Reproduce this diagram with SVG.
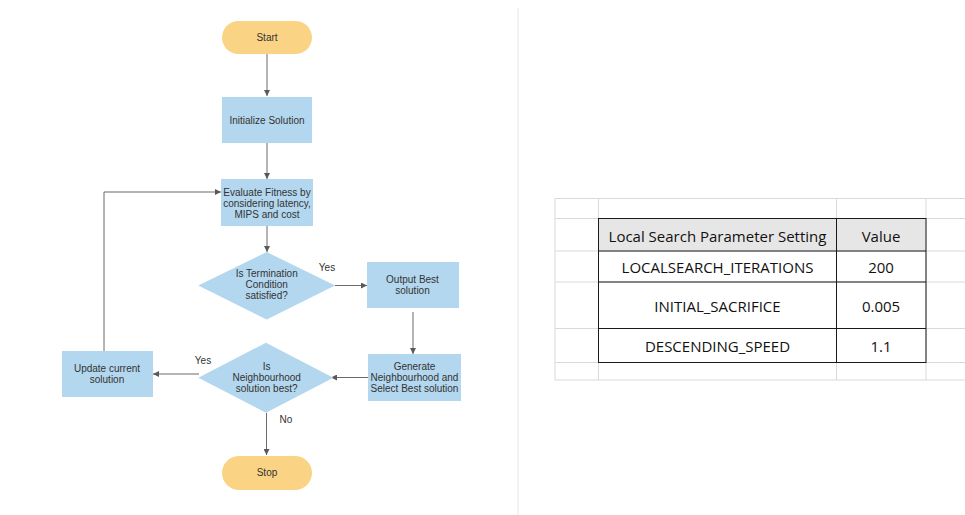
<svg xmlns="http://www.w3.org/2000/svg" width="965" height="515" viewBox="0 0 965 515">
  <defs>
    <marker id="arrow" viewBox="0 0 10 10" refX="10" refY="5" markerWidth="6" markerHeight="6" orient="auto" markerUnits="userSpaceOnUse">
      <path d="M0,0 L10,5 L0,10 z" fill="#595959"/>
    </marker>
    <style>
      .term { fill: #fad484; }
      .proc { fill: #b3d7ee; }
      .lbl { font-family: "Liberation Sans", Arial, sans-serif; font-size: 10px; fill: #333333; text-anchor: middle; }
      .edge { fill: none; stroke: #6b6b6b; stroke-width: 1; }
      .grid { stroke: #d9d9d9; stroke-width: 1; fill: none; }
      .tbl { stroke: #1a1a1a; stroke-width: 1; fill: none; }
      .cell { font-family: "Open Sans", "Liberation Sans", sans-serif; font-size: 15px; fill: #111111; text-anchor: middle; }
    </style>
  </defs>
  <rect width="965" height="515" fill="#ffffff"/>

  <!-- panel divider -->
  <line x1="518" y1="8" x2="518" y2="515" stroke="#e6e6e6" stroke-width="1"/>

  <!-- connectors -->
  <g id="connectors">
    <path class="edge" d="M267,54 V96" marker-end="url(#arrow)"/>
    <path class="edge" d="M267,143 V179" marker-end="url(#arrow)"/>
    <path class="edge" d="M267,226 V252" marker-end="url(#arrow)"/>
    <path class="edge" d="M335,285.5 H367" marker-end="url(#arrow)"/>
    <path class="edge" d="M413,312 V354" marker-end="url(#arrow)"/>
    <path class="edge" d="M368,377.5 H331" marker-end="url(#arrow)"/>
    <path class="edge" d="M199,374 H153" marker-end="url(#arrow)"/>
    <path class="edge" d="M266.5,413 V455" marker-end="url(#arrow)"/>
    <path class="edge" d="M104,351 V192 H221" marker-end="url(#arrow)"/>
    <text class="lbl" x="327" y="271">Yes</text>
    <text class="lbl" x="203" y="364">Yes</text>
    <text class="lbl" x="286" y="423">No</text>
  </g>

  <g id="start">
    <rect class="term" x="222" y="21" width="90" height="33" rx="16.5"/>
    <text class="lbl" x="267" y="41">Start</text>
  </g>

  <g id="init">
    <rect class="proc" x="222" y="97" width="90" height="46"/>
    <text class="lbl" x="267" y="123.5">Initialize Solution</text>
  </g>

  <g id="evaluate">
    <rect class="proc" x="221" y="179" width="92" height="47"/>
    <text class="lbl" x="267" y="195.5">Evaluate Fitness by</text>
    <text class="lbl" x="267" y="206.5">considering latency,</text>
    <text class="lbl" x="267" y="217.5">MIPS and cost</text>
  </g>

  <g id="termination">
    <polygon class="proc" points="266.7,252 335,285.5 266.7,319.5 198.3,285.5"/>
    <text class="lbl" x="266.7" y="277">Is Termination</text>
    <text class="lbl" x="266.7" y="288">Condition</text>
    <text class="lbl" x="266.7" y="299">satisfied?</text>
  </g>

  <g id="output">
    <rect class="proc" x="367" y="262" width="92" height="46"/>
    <text class="lbl" x="412.5" y="283">Output Best</text>
    <text class="lbl" x="412.5" y="294">solution</text>
  </g>

  <g id="generate">
    <rect class="proc" x="368" y="354" width="93" height="47"/>
    <text class="lbl" x="414.5" y="370">Generate</text>
    <text class="lbl" x="414.5" y="381">Neighbourhood and</text>
    <text class="lbl" x="414.5" y="392">Select Best solution</text>
  </g>

  <g id="neighbour">
    <polygon class="proc" points="266,342.7 333.3,377.7 266,412.7 198.3,377.7"/>
    <text class="lbl" x="266.7" y="370">Is</text>
    <text class="lbl" x="266.7" y="381">Neighbourhood</text>
    <text class="lbl" x="266.7" y="392">solution best?</text>
  </g>

  <g id="update">
    <rect class="proc" x="62" y="351" width="91" height="46"/>
    <text class="lbl" x="107" y="372">Update current</text>
    <text class="lbl" x="107" y="383">solution</text>
  </g>

  <g id="stop">
    <rect class="term" x="222" y="456" width="90" height="34" rx="17"/>
    <text class="lbl" x="267" y="476">Stop</text>
  </g>

  <!-- parameter table on a spreadsheet grid -->
  <g id="sheet">
    <path class="grid" d="M555,198.5 H965 M555,218.5 H965 M555,251 H965 M555,282 H965 M555,328.5 H965 M555,362.5 H965 M555,380 H965"/>
    <path class="grid" d="M555,198 V380 M598.5,198 V380 M836.5,198 V380 M926,198 V380"/>
  </g>
  <g id="table">
    <rect x="598.5" y="218.5" width="327.5" height="32.5" fill="#e7e6e6"/>
    <rect class="tbl" x="598.5" y="218.5" width="327.5" height="144"/>
    <path class="tbl" d="M598.5,251 H926 M598.5,282 H926 M598.5,328.5 H926 M836.5,218.5 V362.5"/>
    <text class="cell" x="717.5" y="241.5">Local Search Parameter Setting</text>
    <text class="cell" x="881" y="241.5">Value</text>
    <text class="cell" x="717.5" y="273">LOCALSEARCH_ITERATIONS</text>
    <text class="cell" x="881" y="273">200</text>
    <text class="cell" x="717.5" y="312">INITIAL_SACRIFICE</text>
    <text class="cell" x="881" y="312">0.005</text>
    <text class="cell" x="717.5" y="351.5">DESCENDING_SPEED</text>
    <text class="cell" x="881" y="351.5">1.1</text>
  </g>
</svg>
